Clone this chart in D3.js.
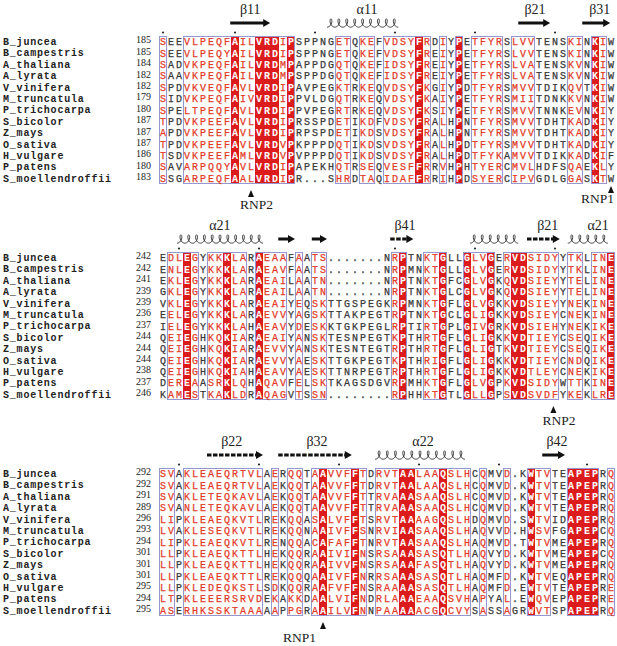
<!DOCTYPE html>
<html><head><meta charset="utf-8">
<script src="https://cdn.jsdelivr.net/npm/d3@7"></script>
<style>body{margin:0;background:#fff}</style>
</head><body>
<svg id="chart" width="617" height="646"></svg>
<script>
// ---------------- DATA ----------------
const names = ["B_juncea","B_campestris","A_thaliana","A_lyrata","V_vinifera","M_truncatula","P_trichocarpa","S_bicolor","Z_mays","O_sativa","H_vulgare","P_patens","S_moellendroffii"];

const start1 = [185,185,184,182,182,179,180,187,187,187,186,180,183];
const start2 = [242,242,241,239,239,236,237,244,244,244,238,237,246];
const start3 = [292,292,291,289,296,293,294,301,301,301,295,294,295];

const seq1 = [
"SEEVLPEQFAILVRDIPSPPNGETQKEFVDSYFRDIYPETFYRSLVVTENSKINKIW",
"SEEVLPEQYAILVRDIPSPPNGETQKEFVDSYFREIYPETFYRSLVVTENSKINKIW",
"SADVKPEQFAILVRDMPAPPDGQTQKEFIDSYFREIYPETFYRSLVATENSKVNKIW",
"SAAVKPEQFAILVRDMPSPPDGQTQKEFIDSYFREIYPETFYRSLVATENSKVNKIW",
"SPDVKVEQFAVLVRDIPAVPEGKTRKEQVDSYFKGIYPDTFYRSMVVTDIKQVTKIW",
"SIDVKPEQFAIVVRDIPPVLDGQTRKEQVDSYFKAIYPETFYRSMIITDNKKVNKIW",
"SPELTPEQFAVLVRDIPPVPEGRTRKEQVDSYFKSIYPETFYRSMVVTNNKEVNKIY",
"TPDVKPEEFAVLVRDIPRSSPDETIKDFVDSYFRALHPNTFYRSMVVTDHTKADKIY",
"APDVKPEEFAVLVRDIPRPSPDETIKDSVDSYFRALHPNTFYRSMVVTDHTKADKIY",
"TPDVKPEEFAVLVRDVPKPPPDQTIKDSVDSYFRALHPDTFYRSMVVTDHTKADKIY",
"TSDVKPEEFAMLVRDVPVPPPDQTIKDSVDSYFRALHPDTFYKAMVVTDIKKADKIF",
"SAVARPQQYAVLVRDIPAPEKHQTRSEQVESFFRRVHPHTYERCMVLHDFSQAEKLY",
"SSGARPEQFAALVRDIPR...SHRDTAQIDAFFRRIHPDSYERCIPVGDLGGASKTW"];

const seq2 = [
"EDLEGYKKKLARAEAAFAATS.......NRPTNKTGLLGLVGERVDSIDYYTKLINE",
"ENLEGYKKKLARAEAVFAATS.......NRPMNKTGLLGLVGERVDSIDYYTKLINE",
"EKLEGYKKKLARAEAILAATN.......NRPTNKTGFCGLVGKQVDSIEYYTELINE",
"GKLEGYKKKLARAEAILAATN.......NRPTNKTGLCGLVGKQVDSIEYYTELINE",
"VKLEGYKKKLARAEAIYEQSKTTGSPEGKRPMNKTGFLGLVGKKVDSIEYYNEKINE",
"EELEGYKKKLARAEVVYAGSKTTAKPEGTRPTNKTGCLGLIGKKVDSIEYCNEKINE",
"IELEGYKKKLAHAEAVYDESKKTGKPEGLRPTIRTGPLGIVGRKVDSIEHYNEKIKE",
"QEIEGHKQKIARAEAIYANSKTESNPEGTKPTHRTGFLGLIGKKVDTIEYCSEQIKE",
"QEIEGHKQKIARAEVVYANSKTESNTEGTRPTHRTGFLGLIGTKVDTIEYCSEQIKE",
"QEIEGHKQKIARAEVVYAESKTTGKPEGTKPTHRIGFLGLIGKKVDTIEYCNDQIKE",
"QEIEGHKQKIAHAEAVYAESKTTNRPEGTRPTHRTGFLGLIGKKVDTLEYCNEKIKE",
"DEREAASRKLQHAQAVFELSKTKAGSDGVRPMHKTGFLGLVGPKVDSIDYWTTKINE",
"KAMESTKAKLDRAQAGVTSSN........RPHHKTGTLGLLGPSVDSVDFYKEKLRE"];

const seq3 = [
"SVAKLEAEQRTVLAERQQTAAVVFFTDRVTAALAAQSLHCQMVD.KWTVTEAPEPRQ",
"SVAKLEAEQRTVLAEKQQTAAVVFFTDRVTAALAAQSLHCQMVD.KWTVTEAPEPRQ",
"SVAKLETEQKAVLAEKQQTAAVVFFTTRVAAASAAQSLHCQMVD.KWTVTEAPEPRQ",
"SVANLETEQKAVLAEKQQTAAVVFFTTRVAAASAAQSLHCQMVD.KWTVTEAPEPRQ",
"LIPKLEAEQKVTLREKQQASALVFFTSRVTAAAAGQSLHDQMVD.SWTVIDAPEPRQ",
"LVAKLESEQKVTLREKQQNAAIVFFSNRVIAASAAQSLHAQVVD.HWSVFGAPEPCQ",
"LIPKLEAEQKVTLRENQQACAFAFFTNRVTAASAAQSLHAQMVD.TWTVMEAPEPRQ",
"LLPKLEAEQKTTLHEKQQRAAIVIFNSRSAAASASQTLHAQVYD.KWTVMEAPEPCQ",
"LLPKLEAEQKTTLHEKQQRAAIVVFNSRSAAAFASQTLHAQVYD.KWTVMEAPEPRQ",
"LLPKLEAEQKTTLREKQQQAAIVFFNRRSAAASASQTLHAQMFD.KWTVEQAPEPRQ",
"LLPKLEDEQKSTLSDKQQRAAFVFFNSRAAAASASQTLHAQMFD.EWTVTEAPEPRE",
"LTPKLEEERSRVDEKAKKDAALVIFNDRLAAAEAAQSVHAPYAL.EWQVEPAPEPRE",
"ASERHKSSKTAAAAAPPGRAAILVFNNPAAAAACGQCVYSASSAGRWVTSPAPEPRQ"];

// strictly conserved columns (red background)
const conserved1 = [10,13,14,15,17,33,38,55];
const conserved2 = [4,9,13,31,36,39,42,45,46,57];
const conserved3 = [21,25,31,32,36,47,52,53,54,55];

// similarity boxes [first column, last column]
const boxes1 = [[1,1],[4,17],[23,24],[26,27],[29,34],[36,36],[38,38],[40,43],[45,47],[52,53],[55,56]];
const boxes2 = [[2,5],[7,11],[13,16],[18,18],[20,21],[30,31],[34,36],[39,42],[44,50],[52,53],[55,57]];
const boxes3 = [[1,2],[4,13],[15,15],[17,18],[20,26],[28,39],[41,41],[44,44],[47,49],[52,55],[57,57]];

// numbering dots (column)
const dots1 = [1,10,20,30,40,50];
const dots2 = [3,13,30,40,50];
const dots3 = [3,13,23,33,43,54];

// secondary structure elements (column ranges)
const ss1 = [
  {type:"arrow", from:9.4, to:14.4, label:"β11", at:11.9, dashed:false},
  {type:"coil",  from:21.5, to:30.4, label:"α11", at:26.5},
  {type:"arrow", from:45.4, to:49.4, label:"β21", at:47.5, dashed:false},
  {type:"arrow", from:53.4, to:56.9, label:"β31", at:55.6, dashed:false}];
const ss2 = [
  {type:"coil",  from:2.75, to:13.5, label:"α21", at:8.1},
  {type:"arrow", from:15.4, to:17.5, label:"", dashed:false},
  {type:"arrow", from:19.6, to:21.5, label:"", dashed:false},
  {type:"arrow", from:29.4, to:32.3, label:"β41", at:31.25, dashed:true},
  {type:"coil",  from:39.4, to:45.4, label:""},
  {type:"arrow", from:46.5, to:50.6, label:"β21", at:49.1, dashed:true},
  {type:"coil",  from:51.6, to:56.6, label:"α21", at:55.4}];
const ss3 = [
  {type:"arrow", from:6.5, to:13.5, label:"β22", at:9.6, dashed:true},
  {type:"arrow", from:15.4, to:24.6, label:"β32", at:20.25, dashed:true},
  {type:"coil",  from:27.5, to:38.75, label:"α22", at:33.5},
  {type:"arrow", from:48.4, to:51.25, label:"β42", at:50.25, dashed:false}];

// motif annotations (column of the marker)
const notes1 = [{label:"RNP2", col:12}, {label:"RNP1", col:57}];
const notes2 = [{label:"RNP2", col:49.8}];
const notes3 = [{label:"RNP1", col:21}];

// ---------------- DRAWING ----------------
const RED_BG = "#dc1c1c", RED_TXT = "#e23a28", BOX = "#9797d0", DARK = "#383838";
const svg = d3.select("#chart");
svg.append("rect").attr("width",617).attr("height",646).attr("fill","#fff");

const blocks = [
  {top:36,  seq:seq1, start:start1, cons:conserved1, boxes:boxes1, dots:dots1, ss:ss1, notes:notes1},
  {top:252, seq:seq2, start:start2, cons:conserved2, boxes:boxes2, dots:dots2, ss:ss2, notes:notes2},
  {top:468, seq:seq3, start:start3, cons:conserved3, boxes:boxes3, dots:dots3, ss:ss3, notes:notes3}];

const cw = 8, blockH = 148;
const x = d3.scaleLinear().domain([1,57]).range([163, 163 + 56*cw]);

function helixPath(x0, x1, yc){
  const n = Math.max(1, Math.round((x1-x0)/cw));
  const w = (x1-x0)/n, r = 2.6, h = 4.2;
  const pts = [];
  const steps = 24*n;
  for(let i=0;i<=steps;i++){
    const t = -Math.PI + (2*Math.PI*n)*i/steps;
    pts.push([x0 + w*(t+Math.PI)/(2*Math.PI) - r*Math.sin(t), yc - h*Math.cos(t)]);
  }
  return d3.line()(pts);
}

blocks.forEach((b, bi) => {
  const g = svg.append("g");
  const y = d3.scaleBand().domain(d3.range(names.length)).range([b.top, b.top + blockH]);
  const rh = y.bandwidth();
  const consSet = new Set(b.cons);
  const boxed = new Set();
  b.boxes.forEach(([s,e]) => { for(let c=s;c<=e;c++) boxed.add(c); });

  // conserved columns
  g.selectAll("rect.cons").data(b.cons).join("rect")
    .attr("x", c => x(c) - cw/2).attr("y", b.top)
    .attr("width", cw).attr("height", blockH).attr("fill", RED_BG);

  // boxes
  g.selectAll("rect.box").data(b.boxes).join("rect")
    .attr("x", d => x(d[0]) - cw/2 + 0.5).attr("y", b.top + 0.5)
    .attr("width", d => (d[1]-d[0]+1)*cw - 1).attr("height", blockH - 1)
    .attr("fill", "none").attr("stroke", BOX).attr("stroke-width", 1);

  // names
  g.selectAll("text.name").data(names).join("text")
    .attr("x", 3).attr("y", (d,i) => y(i) + rh/2 + 3.4)
    .attr("font-family", "'Liberation Mono', monospace").attr("font-weight", "bold")
    .attr("font-size", 10).attr("letter-spacing", 0.8).attr("fill", "#222").text(d => d);

  // numbers
  g.selectAll("text.num").data(b.start).join("text")
    .attr("x", 151).attr("y", (d,i) => y(i) + rh/2 + 1.8)
    .attr("text-anchor", "end")
    .attr("font-family", "'Liberation Serif', serif").attr("font-size", 10)
    .attr("fill", "#222").text(d => d);

  // residues
  const cells = [];
  b.seq.forEach((s, r) => {
    for(let c=1;c<=s.length;c++) cells.push({r, c, ch: s[c-1]});
  });
  g.selectAll("text.res").data(cells).join("text")
    .attr("x", d => x(d.c)).attr("y", d => y(d.r) + rh/2 + 3.5)
    .attr("text-anchor", "middle")
    .attr("font-family", "'Liberation Mono', monospace")
    .attr("font-size", 10)
    .attr("font-weight", d => consSet.has(d.c) ? "bold" : "normal")
    .attr("fill", d => consSet.has(d.c) ? "#fff" : (boxed.has(d.c) && d.ch !== "." ? RED_TXT : DARK))
    .attr("stroke", d => consSet.has(d.c) ? "none" : (boxed.has(d.c) && d.ch !== "." ? RED_TXT : DARK))
    .attr("stroke-width", 0.25)
    .text(d => d.ch);

  // numbering dots
  g.selectAll("circle.dot").data(b.dots).join("circle")
    .attr("cx", c => x(c)).attr("cy", b.top - 3.5).attr("r", 1).attr("fill", "#111");

  // secondary structure
  const yEl = b.top - 13, yLab = b.top - 22;
  b.ss.forEach(e => {
    const x0 = x(e.from), x1 = x(e.to);
    if(e.type === "arrow"){
      g.append("line").attr("x1", x0).attr("x2", x1 - 6).attr("y1", yEl).attr("y2", yEl)
        .attr("stroke", "#111").attr("stroke-width", 3)
        .attr("stroke-dasharray", e.dashed ? "4.5,1.5" : null);
      g.append("path").attr("d", `M${x1-7},${yEl-4}L${x1},${yEl}L${x1-7},${yEl+4}Z`).attr("fill", "#111");
    } else {
      g.append("path").attr("d", helixPath(x0, x1, yEl)).attr("fill", "none")
        .attr("stroke", "#333").attr("stroke-width", 0.9);
    }
    if(e.label){
      g.append("text").attr("x", x(e.at)).attr("y", yLab).attr("text-anchor", "middle")
        .attr("font-family", "'Liberation Serif', serif").attr("font-size", 14)
        .attr("fill", "#222").text(e.label);
    }
  });

  // motif annotations
  const bottom = b.top + blockH;
  b.notes.forEach(n => {
    const tx = x(n.col);
    const edge = n.col >= 56;
    const apex = edge ? bottom + 2 : bottom + 6;
    g.append("path").attr("d", `M${tx},${apex}L${tx+3},${apex+7}L${tx-3},${apex+7}Z`).attr("fill", "#111");
    const t = g.append("text")
      .attr("font-family", "'Liberation Serif', serif").attr("font-size", 13.5)
      .attr("fill", "#222").text(n.label);
    if(edge){
      t.attr("x", tx + 3).attr("y", bottom + 19).attr("text-anchor", "end");
    } else if(bi === 2){
      t.attr("x", tx - 40).attr("y", bottom + 26);
    } else {
      t.attr("x", tx - 11).attr("y", bottom + 25);
    }
  });
});
</script>
</body></html>
